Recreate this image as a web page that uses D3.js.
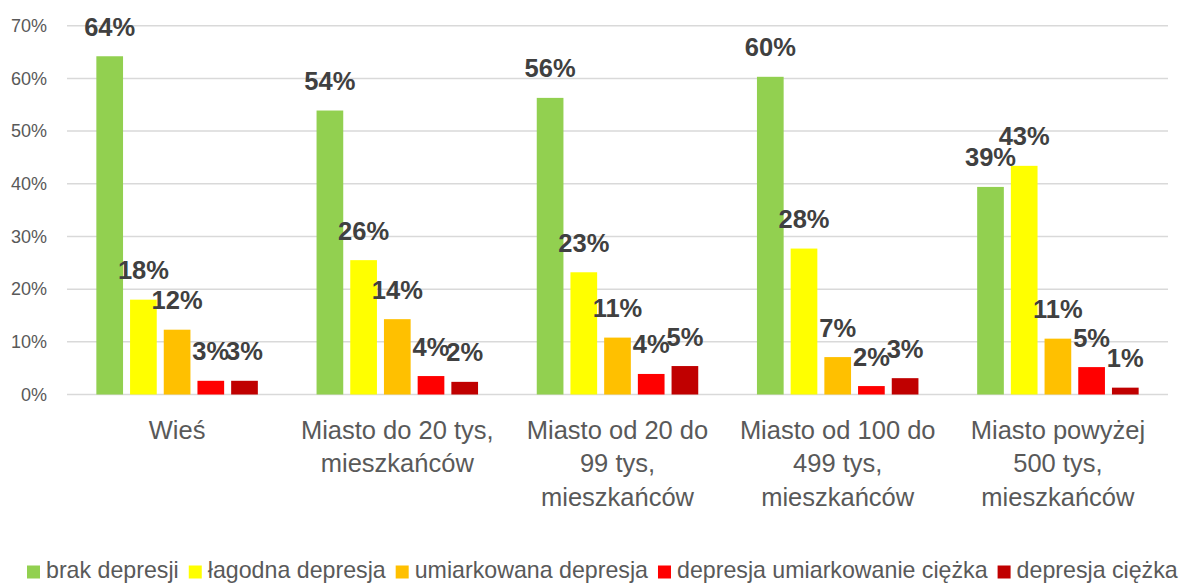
<!DOCTYPE html>
<html>
<head>
<meta charset="utf-8">
<script src="https://cdn.jsdelivr.net/npm/d3@7"></script>
<style>
  body { margin: 0; background: #fff; }
  svg { font-family: "Liberation Sans", Arial, sans-serif; }
</style>
</head>
<body>
<svg width="1181" height="583"></svg>
<script>
// data
var categories = ["Wieś", "Miasto do 20 tys, mieszkańców", "Miasto od 20 do 99 tys, mieszkańców",
                  "Miasto od 100 do 499 tys, mieszkańców", "Miasto powyżej 500 tys, mieszkańców"];
var seriesNames = ["brak depresji", "łagodna depresja", "umiarkowana depresja",
                   "depresja umiarkowanie ciężka", "depresja ciężka"];
var brak = [64.2, 53.9, 56.3, 60.3, 39.4];
var lagodna = [18.0, 25.5, 23.2, 27.7, 43.4];
var umiarkowana = [12.3, 14.3, 10.8, 7.1, 10.6];
var umiarkCiezka = [2.6, 3.5, 3.9, 1.6, 5.2];
var ciezka = [2.6, 2.4, 5.4, 3.1, 1.3];
var yTicks = [0, 10, 20, 30, 40, 50, 60, 70];
var colors = ["#92d050", "#ffff00", "#ffc000", "#ff0000", "#c00000"];

var seriesValues = [brak, lagodna, umiarkowana, umiarkCiezka, ciezka];

var svg = d3.select("svg"),
    plotLeft = 67, plotRight = 1168, plotTop = 25.7, plotBottom = 394.5;

var x0 = d3.scaleBand().domain(categories).range([plotLeft, plotRight]).paddingInner(0).paddingOuter(0);
var x1 = d3.scaleBand().domain(seriesNames).range([0, x0.bandwidth()])
    .paddingInner(0.208).paddingOuter(0.871);
var y = d3.scaleLinear().domain([0, 70]).range([plotBottom, plotTop]);

// gridlines
svg.append("g").selectAll("line")
    .data(yTicks)
    .enter().append("line")
        .attr("x1", plotLeft).attr("x2", plotRight)
        .attr("y1", function(d) { return y(d); })
        .attr("y2", function(d) { return y(d); })
        .attr("stroke", "#d9d9d9")
        .attr("stroke-width", 1.5);

// y axis labels
var yAxis = d3.axisLeft(y).tickValues(yTicks).tickSize(0).tickPadding(0)
    .tickFormat(function(d) { return d + "%"; });
var yg = svg.append("g").attr("transform", "translate(47,0)").call(yAxis);
yg.select(".domain").remove();
yg.selectAll("text").attr("fill", "#595959").style("font-size", "18px")
    .style("font-family", "Liberation Sans, Arial, sans-serif");

// bars
var rows = categories.map(function(c, i) {
    return seriesNames.map(function(s, j) { return { cat: c, name: s, value: seriesValues[j][i], color: colors[j] }; });
});

var groups = svg.append("g").selectAll("g")
    .data(rows)
    .enter().append("g")
        .attr("transform", function(d, i) { return "translate(" + x0(categories[i]) + ",0)"; });

groups.selectAll("rect")
    .data(function(d) { return d; })
    .enter().append("rect")
        .attr("x", function(d) { return x1(d.name); })
        .attr("y", function(d) { return y(d.value); })
        .attr("width", x1.bandwidth())
        .attr("height", function(d) { return y(0) - y(d.value); })
        .attr("fill", function(d) { return d.color; });

groups.selectAll("text")
    .data(function(d) { return d; })
    .enter().append("text")
        .attr("x", function(d) { return x1(d.name) + x1.bandwidth() / 2; })
        .attr("y", function(d) { return y(d.value) - 20.5; })
        .attr("text-anchor", "middle")
        .attr("fill", "#404040")
        .style("font-size", "25.5px")
        .style("font-weight", "bold")
        .text(function(d) { return Math.round(d.value) + "%"; });

// category labels, wrapped
var xg = svg.append("g");
categories.forEach(function(c) {
    var t = xg.append("text")
        .attr("text-anchor", "middle")
        .attr("fill", "#595959")
        .style("font-size", "25.5px");
    var cx = x0(c) + x0.bandwidth() / 2;
    var words = c.split(" "), line = [], lines = [];
    var probe = t.append("tspan");
    words.forEach(function(w) {
        line.push(w);
        probe.text(line.join(" "));
        if (probe.node().getComputedTextLength() > 203 && line.length > 1) {
            line.pop();
            lines.push(line.join(" "));
            line = [w];
        }
    });
    lines.push(line.join(" "));
    probe.remove();
    lines.forEach(function(l, i) {
        t.append("tspan").attr("x", cx).attr("y", 438.5 + i * 33.5).text(l);
    });
});

// legend
var lg = svg.append("g");
var items = lg.selectAll("g").data(seriesNames).enter().append("g");
items.append("rect").attr("width", 13).attr("height", 13).attr("y", 565.5)
    .attr("fill", function(d, i) { return colors[i]; });
items.append("text").attr("x", 19).attr("y", 578.3)
    .attr("fill", "#595959").style("font-size", "23.2px")
    .text(function(d) { return d; });
var widths = [];
items.each(function() { widths.push(this.querySelector("text").getComputedTextLength() + 19); });
var gap = 10;
var pos = 27;
items.attr("transform", function(d, i) {
    var p = pos;
    pos += widths[i] + gap;
    return "translate(" + p + ",0)";
});
</script>
</body>
</html>
